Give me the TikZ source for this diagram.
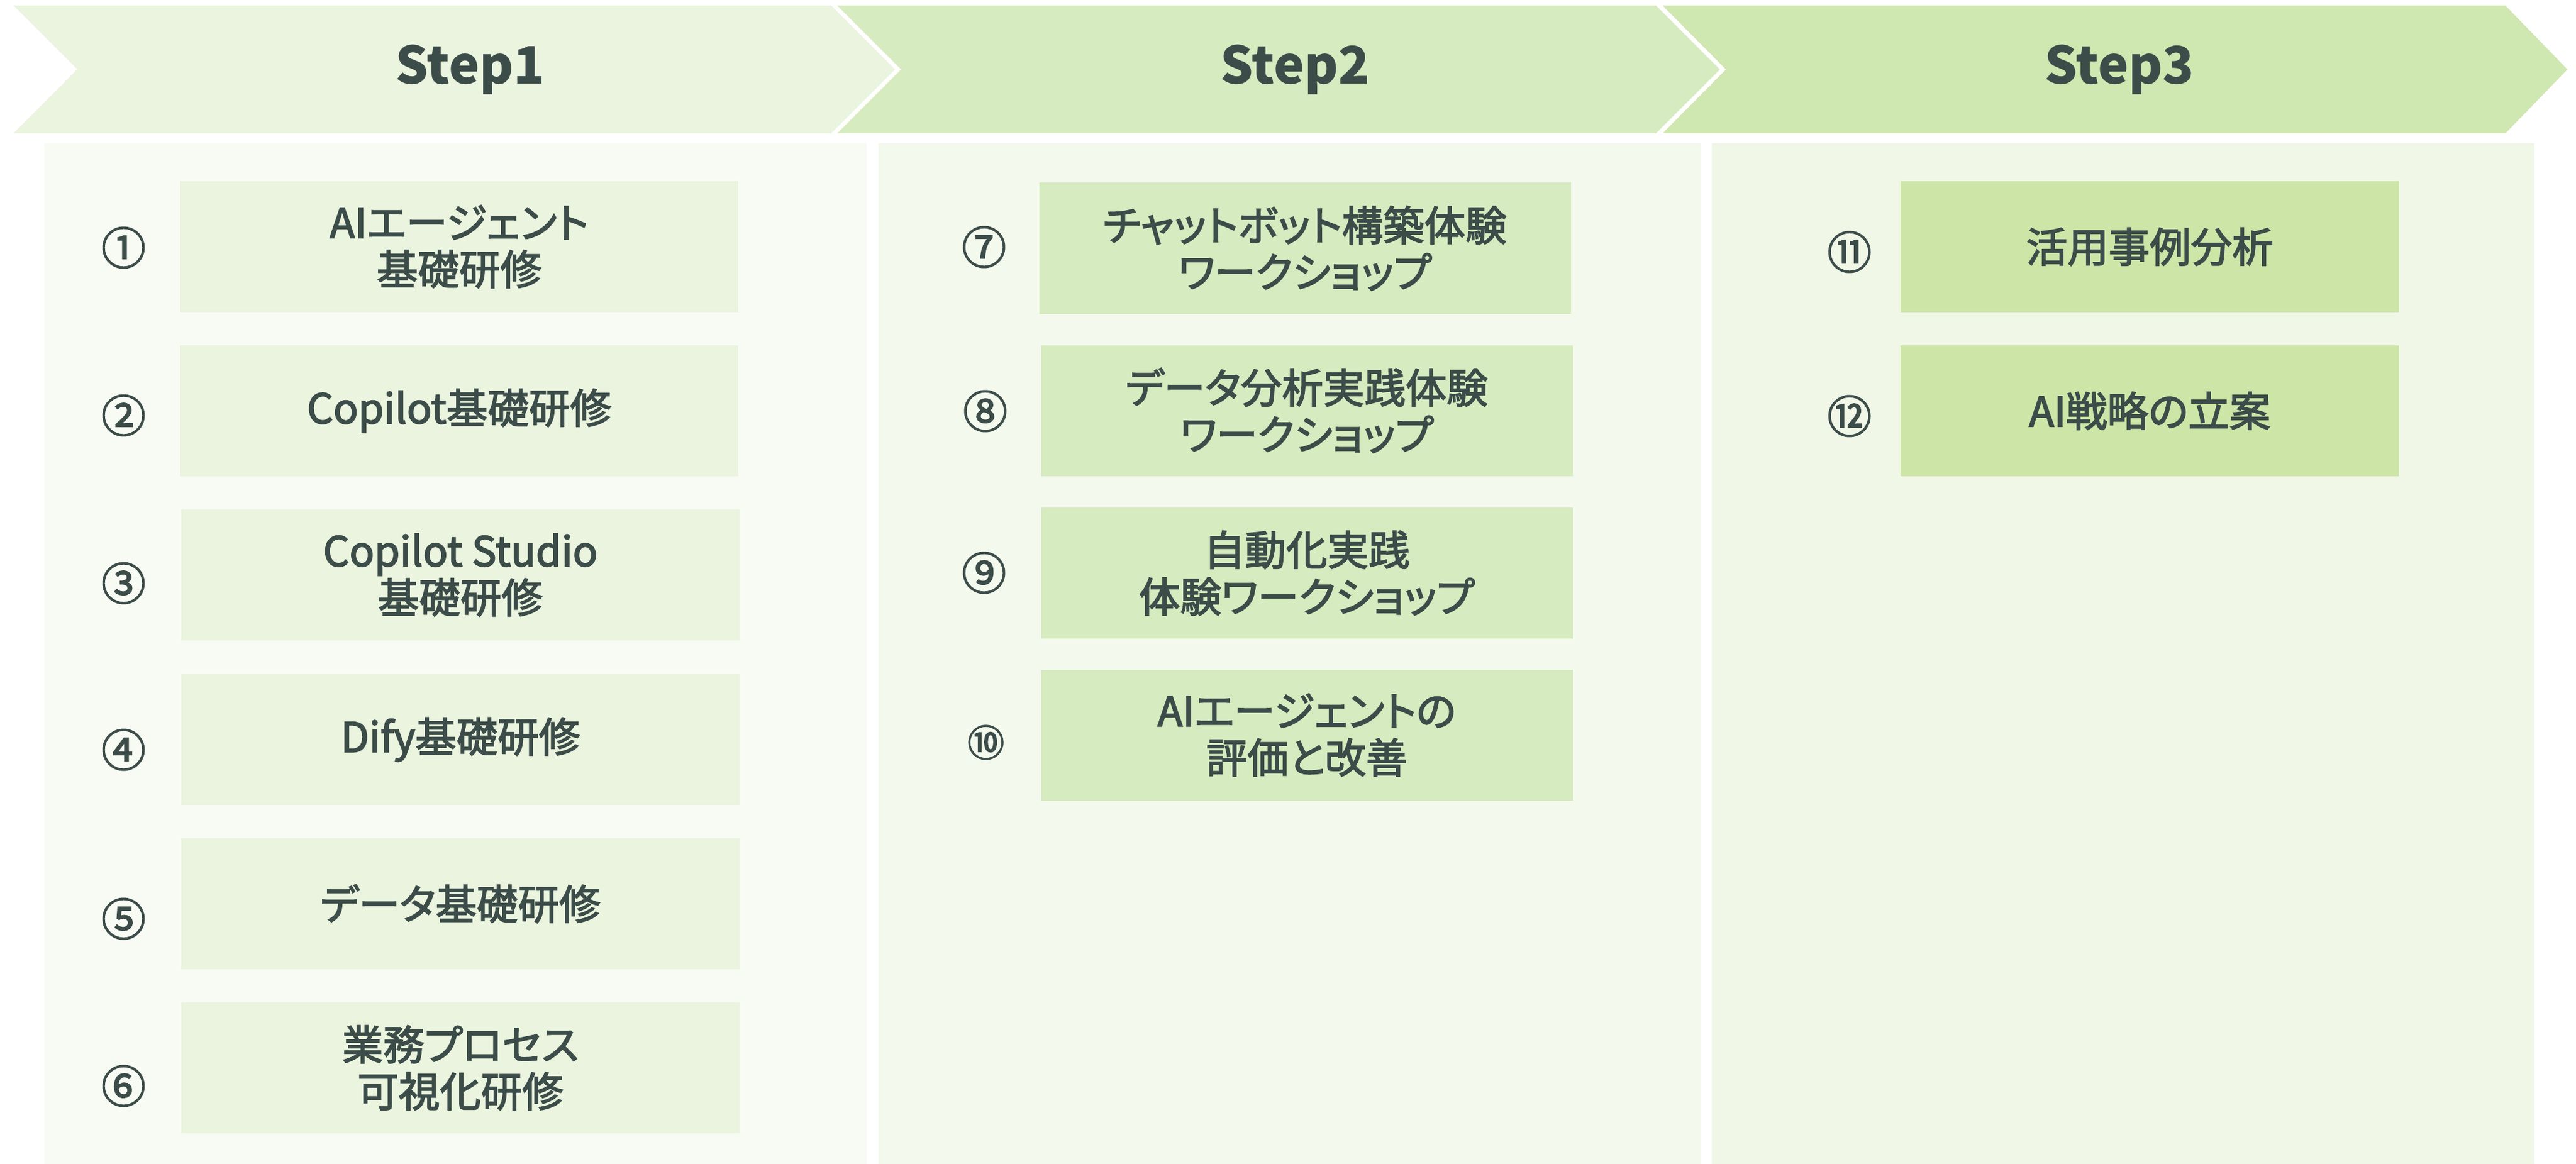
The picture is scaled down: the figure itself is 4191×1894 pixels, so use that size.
\documentclass[tikz,border=0pt]{standalone}
\usepackage{fontspec}
\setmainfont{Noto Sans CJK JP}[RawFeature=+palt]
\newfontfamily\jpfont{Noto Sans CJK JP}[RawFeature=+palt]
\newfontfamily\jpmid{Noto Sans CJK JP}[RawFeature=+palt, FakeBold=2.6]
\newfontfamily\numfont{Noto Sans CJK JP}[FakeBold=2.6]
\definecolor{txt}{HTML}{3C4C49}
\definecolor{chevA}{HTML}{EAF4DE}
\definecolor{chevB}{HTML}{D6EBC0}
\definecolor{chevC}{HTML}{CFE7B0}
\definecolor{panA}{HTML}{F8FBF4}
\definecolor{panB}{HTML}{F3F9ED}
\definecolor{panC}{HTML}{F0F7E7}
\definecolor{boxA}{HTML}{EAF4DE}
\definecolor{boxB}{HTML}{D6EBBF}
\definecolor{boxC}{HTML}{CDE6A8}
\tikzset{
  steptext/.style={text=txt, anchor=base, font=\jpfont\bfseries\fontsize{42}{48}\selectfont},
  itembox/.style={inner sep=0pt, text=txt, align=center, minimum height=106.5pt,
    font=\jpmid\fontsize{33.5}{38}\selectfont},
  boxone/.style={itembox, fill=boxA, minimum width=454pt},
  boxtwo/.style={itembox, fill=boxB, minimum width=432.5pt},
  boxthree/.style={itembox, fill=boxC, minimum width=405.5pt},
  numlabel/.style={inner sep=0pt, text=txt, font=\numfont\fontsize{36}{40}\selectfont}
}
\begin{document}
\begin{tikzpicture}[x=0.5pt,y=-0.5pt]
\useasboundingbox (0,0) rectangle (4191,1894);
\fill[white] (0,0) rectangle (4191,1894);
% chevrons
\fill[chevA] (22,9) -- (1352,9) -- (1456,113) -- (1352,217) -- (22,217) -- (126,113) -- cycle;
\fill[chevB] (1362,9) -- (2694,9) -- (2798,113) -- (2694,217) -- (1362,217) -- (1466,113) -- cycle;
\fill[chevC] (2705,9) -- (4076,9) -- (4177,113) -- (4076,217) -- (2705,217) -- (2808,113) -- cycle;
\node[steptext] (s1) at (765,137) {Step1};
\node[steptext] (s2) at (2107,137) {Step2};
\node[steptext] (s3) at (3448,137) {Step3};
% panels
\fill[panA] (72,233) rectangle (1410,1894);
\fill[panB] (1429,233) rectangle (2767,1894);
\fill[panC] (2785,233) rectangle (4123,1894);
% step1 boxes
\node[boxone] (b1) at (747,401.5) {AIエージェント\\基礎研修};
\node[boxone] (b2) at (747,668.5) {Copilot基礎研修};
\node[boxone] (b3) at (749,935.5) {Copilot Studio\\基礎研修};
\node[boxone] (b4) at (749,1203.5) {Dify基礎研修};
\node[boxone] (b5) at (749,1470.5) {データ基礎研修};
\node[boxone] (b6) at (749,1737.5) {業務プロセス\\可視化研修};
\node[numlabel] (n1) at (201,403) {①};
\node[numlabel] (n2) at (201,676) {②};
\node[numlabel] (n3) at (201,949) {③};
\node[numlabel] (n4) at (201,1220) {④};
\node[numlabel] (n5) at (201,1495) {⑤};
\node[numlabel] (n6) at (201,1767) {⑥};
% step2 boxes
\node[boxtwo] (b7) at (2123,404) {チャットボット構築体験\\ワークショップ};
\node[boxtwo] (b8) at (2126,668) {データ分析実践体験\\ワークショップ};
\node[boxtwo] (b9) at (2126,932.5) {自動化実践\\体験ワークショップ};
\node[boxtwo] (b10) at (2126,1196) {AIエージェントの\\評価と改善};
\node[numlabel] (n7) at (1601,402) {⑦};
\node[numlabel] (n8) at (1603,669) {⑧};
\node[numlabel] (n9) at (1601,932) {⑨};
\node[numlabel, font=\numfont\fontsize{30}{34}\selectfont] (n10) at (1604,1208) {⑩};
% step3 boxes
\node[boxthree] (b11) at (3497.5,401.5) {活用事例分析};
\node[boxthree] (b12) at (3497.5,668.5) {AI戦略の立案};
\node[numlabel] (n11) at (3009,410) {⑪};
\node[numlabel] (n12) at (3009,677) {⑫};
\end{tikzpicture}
\end{document}
